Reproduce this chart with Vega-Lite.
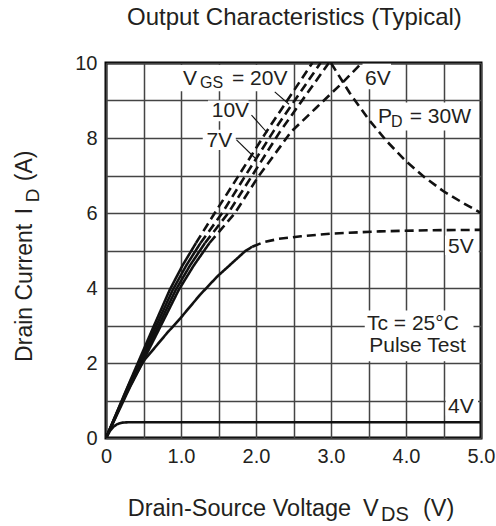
{
  "$schema": "https://vega.github.io/schema/vega-lite/v6.json",
  "width": 375,
  "height": 375,
  "autosize": {"type": "none"},
  "padding": {"left": 106, "top": 63, "right": 15, "bottom": 88},
  "background": "white",
  "config": {
    "view": {"stroke": "#000", "strokeWidth": 3},
    "font": "Liberation Sans",
    "text": {"font": "Liberation Sans", "color": "#231f20"}
  },
  "datasets": {
    "curves": [
      {"c": "20V", "s": "solid", "v": 0, "i": 0},
      {"c": "20V", "s": "solid", "v": 0.3, "i": 1.42},
      {"c": "20V", "s": "solid", "v": 0.63, "i": 2.95},
      {"c": "20V", "s": "solid", "v": 0.85, "i": 3.95},
      {"c": "20V", "s": "solid", "v": 1.02, "i": 4.6},
      {"c": "20V", "s": "solid", "v": 1.2, "i": 5.2},
      {"c": "20V", "s": "dashed", "v": 1.2, "i": 5.2},
      {"c": "20V", "s": "dashed", "v": 1.45, "i": 6.0},
      {"c": "20V", "s": "dashed", "v": 1.76, "i": 6.97},
      {"c": "20V", "s": "dashed", "v": 2.14, "i": 8.17},
      {"c": "20V", "s": "dashed", "v": 2.45, "i": 9.1},
      {"c": "20V", "s": "dashed", "v": 2.75, "i": 10},
      {"c": "10V", "s": "solid", "v": 0, "i": 0},
      {"c": "10V", "s": "solid", "v": 0.3, "i": 1.4},
      {"c": "10V", "s": "solid", "v": 0.66, "i": 2.95},
      {"c": "10V", "s": "solid", "v": 0.89, "i": 3.95},
      {"c": "10V", "s": "solid", "v": 1.07, "i": 4.6},
      {"c": "10V", "s": "solid", "v": 1.26, "i": 5.2},
      {"c": "10V", "s": "dashed", "v": 1.26, "i": 5.2},
      {"c": "10V", "s": "dashed", "v": 1.55, "i": 6.0},
      {"c": "10V", "s": "dashed", "v": 1.85, "i": 6.97},
      {"c": "10V", "s": "dashed", "v": 2.23, "i": 8.17},
      {"c": "10V", "s": "dashed", "v": 2.55, "i": 9.1},
      {"c": "10V", "s": "dashed", "v": 2.86, "i": 10},
      {"c": "7V", "s": "solid", "v": 0, "i": 0},
      {"c": "7V", "s": "solid", "v": 0.31, "i": 1.38},
      {"c": "7V", "s": "solid", "v": 0.69, "i": 2.95},
      {"c": "7V", "s": "solid", "v": 0.93, "i": 3.95},
      {"c": "7V", "s": "solid", "v": 1.12, "i": 4.6},
      {"c": "7V", "s": "solid", "v": 1.32, "i": 5.2},
      {"c": "7V", "s": "dashed", "v": 1.32, "i": 5.2},
      {"c": "7V", "s": "dashed", "v": 1.63, "i": 6.0},
      {"c": "7V", "s": "dashed", "v": 1.94, "i": 6.97},
      {"c": "7V", "s": "dashed", "v": 2.32, "i": 8.17},
      {"c": "7V", "s": "dashed", "v": 2.65, "i": 9.1},
      {"c": "7V", "s": "dashed", "v": 2.97, "i": 10},
      {"c": "6V", "s": "solid", "v": 0, "i": 0},
      {"c": "6V", "s": "solid", "v": 0.32, "i": 1.36},
      {"c": "6V", "s": "solid", "v": 0.72, "i": 2.95},
      {"c": "6V", "s": "solid", "v": 0.97, "i": 3.95},
      {"c": "6V", "s": "solid", "v": 1.17, "i": 4.6},
      {"c": "6V", "s": "solid", "v": 1.38, "i": 5.2},
      {"c": "6V", "s": "dashed", "v": 1.38, "i": 5.2},
      {"c": "6V", "s": "dashed", "v": 1.72, "i": 6.0},
      {"c": "6V", "s": "dashed", "v": 2.03, "i": 6.97},
      {"c": "6V", "s": "dashed", "v": 2.47, "i": 8.17},
      {"c": "6V", "s": "dashed", "v": 2.8, "i": 8.8},
      {"c": "6V", "s": "dashed", "v": 3.14, "i": 9.45},
      {"c": "6V", "s": "dashed", "v": 3.41, "i": 10},
      {"c": "5V", "s": "solid", "v": 0, "i": 0},
      {"c": "5V", "s": "solid", "v": 0.25, "i": 1.12},
      {"c": "5V", "s": "solid", "v": 0.5, "i": 2.05},
      {"c": "5V", "s": "solid", "v": 0.81, "i": 2.79},
      {"c": "5V", "s": "solid", "v": 0.99, "i": 3.19},
      {"c": "5V", "s": "solid", "v": 1.25, "i": 3.81},
      {"c": "5V", "s": "solid", "v": 1.48, "i": 4.3},
      {"c": "5V", "s": "solid", "v": 1.7, "i": 4.7},
      {"c": "5V", "s": "solid", "v": 1.86, "i": 4.99},
      {"c": "5V", "s": "solid", "v": 1.95, "i": 5.1},
      {"c": "5V", "s": "dashed", "v": 1.95, "i": 5.1},
      {"c": "5V", "s": "dashed", "v": 2.1, "i": 5.22},
      {"c": "5V", "s": "dashed", "v": 2.3, "i": 5.31},
      {"c": "5V", "s": "dashed", "v": 2.6, "i": 5.38},
      {"c": "5V", "s": "dashed", "v": 3.0, "i": 5.45},
      {"c": "5V", "s": "dashed", "v": 3.65, "i": 5.51},
      {"c": "5V", "s": "dashed", "v": 4.3, "i": 5.54},
      {"c": "5V", "s": "dashed", "v": 5.0, "i": 5.55},
      {"c": "4V", "s": "solid", "v": 0, "i": 0},
      {"c": "4V", "s": "solid", "v": 0.05, "i": 0.18},
      {"c": "4V", "s": "solid", "v": 0.1, "i": 0.3},
      {"c": "4V", "s": "solid", "v": 0.15, "i": 0.37},
      {"c": "4V", "s": "solid", "v": 0.22, "i": 0.41},
      {"c": "4V", "s": "solid", "v": 0.3, "i": 0.42},
      {"c": "4V", "s": "solid", "v": 5.0, "i": 0.42},
      {"c": "PD", "s": "dashed", "v": 3.0, "i": 10},
      {"c": "PD", "s": "dashed", "v": 3.25, "i": 9.2},
      {"c": "PD", "s": "dashed", "v": 3.5, "i": 8.5},
      {"c": "PD", "s": "dashed", "v": 3.75, "i": 7.9},
      {"c": "PD", "s": "dashed", "v": 4.0, "i": 7.38},
      {"c": "PD", "s": "dashed", "v": 4.25, "i": 6.95},
      {"c": "PD", "s": "dashed", "v": 4.5, "i": 6.58},
      {"c": "PD", "s": "dashed", "v": 4.75, "i": 6.28},
      {"c": "PD", "s": "dashed", "v": 5.0, "i": 6.0}
    ],
    "leaders": [
      {"c": "20V", "v": 2.25, "i": 9.23},
      {"c": "20V", "v": 2.44, "i": 8.9},
      {"c": "10V", "v": 1.94, "i": 8.61},
      {"c": "10V", "v": 2.15, "i": 8.14},
      {"c": "7V", "v": 1.74, "i": 7.95},
      {"c": "7V", "v": 1.99, "i": 7.46}
    ],
    "boxes": [
      {"v": 0.98, "v2": 2.46, "i": 9.25, "i2": 9.95},
      {"v": 1.36, "v2": 1.9, "i": 8.45, "i2": 9.0},
      {"v": 1.29, "v2": 1.73, "i": 7.68, "i2": 8.22},
      {"v": 3.42, "v2": 3.8, "i": 9.3, "i2": 9.98},
      {"v": 3.6, "v2": 4.96, "i": 8.2, "i2": 8.95},
      {"v": 4.52, "v2": 4.97, "i": 4.88, "i2": 5.4},
      {"v": 3.45, "v2": 4.9, "i": 2.05, "i2": 3.4},
      {"v": 4.53, "v2": 4.96, "i": 0.6, "i2": 1.1}
    ],
    "labels": [
      {"t": "V", "v": 1.027, "i": 9.41},
      {"t": "= 20V", "v": 1.68, "i": 9.41},
      {"t": "10V", "v": 1.41, "i": 8.56},
      {"t": "7V", "v": 1.34, "i": 7.76},
      {"t": "6V", "v": 3.453, "i": 9.41},
      {"t": "P", "v": 3.627, "i": 8.4},
      {"t": "= 30W", "v": 4.05, "i": 8.4},
      {"t": "5V", "v": 4.56, "i": 4.94},
      {"t": "Tc = 25°C", "v": 3.48, "i": 2.88},
      {"t": "Pulse Test", "v": 3.51, "i": 2.3},
      {"t": "4V", "v": 4.56, "i": 0.67}
    ],
    "subs": [
      {"t": "GS", "v": 1.253, "i": 9.33},
      {"t": "D", "v": 3.8, "i": 8.3}
    ],
    "xtitle": [
      {"t": "Drain-Source Voltage", "v": 0.29, "i": -2.08},
      {"t": "V", "v": 3.427, "i": -2.08},
      {"t": "(V)", "v": 4.227, "i": -2.08}
    ],
    "xsub": [
      {"t": "DS", "v": 3.667, "i": -2.2}
    ],
    "ytitle": [
      {"t": "Drain Current", "v": -0.987, "i": 2.03},
      {"t": "I", "v": -0.987, "i": 5.97},
      {"t": "(A)", "v": -0.987, "i": 6.85}
    ],
    "ysub": [
      {"t": "D", "v": -0.9, "i": 6.29}
    ],
    "title": [
      {"t": "Output Characteristics (Typical)", "v": 2.513, "i": 11.01}
    ]
  },
  "encoding": {
    "x": {
      "field": "v",
      "type": "quantitative",
      "scale": {"domain": [0, 5], "nice": false, "zero": false},
      "axis": {
        "values": [0, 0.5, 1, 1.5, 2, 2.5, 3, 3.5, 4, 4.5, 5],
        "labelExpr": "datum.value == 0 ? '0' : (datum.value % 1 == 0 ? format(datum.value, '.1f') : '')",
        "title": null,
        "grid": true,
        "ticks": false,
        "domain": false,
        "labelFont": "Liberation Sans",
        "labelFontSize": 20,
        "labelPadding": 8,
        "labelColor": "#231f20",
        "labelFlush": false,
        "labelOverlap": false,
        "gridColor": "#444444",
        "gridWidth": 1.5,
        "gridOpacity": 1
      }
    },
    "y": {
      "field": "i",
      "type": "quantitative",
      "scale": {"domain": [0, 10], "nice": false, "zero": false},
      "axis": {
        "values": [0, 1, 2, 3, 4, 5, 6, 7, 8, 9, 10],
        "labelExpr": "datum.value % 2 == 0 ? datum.label : ''",
        "title": null,
        "grid": true,
        "ticks": false,
        "domain": false,
        "labelFont": "Liberation Sans",
        "labelFontSize": 20,
        "labelPadding": 9,
        "labelColor": "#231f20",
        "labelFlush": false,
        "labelOverlap": false,
        "gridColor": "#444444",
        "gridWidth": 1.5,
        "gridOpacity": 1
      }
    }
  },
  "layer": [
    {
      "data": {"name": "boxes"},
      "mark": {"type": "rect", "color": "white", "opacity": 1},
      "encoding": {"x2": {"field": "v2"}, "y2": {"field": "i2"}}
    },
    {
      "data": {"name": "curves"},
      "mark": {"type": "line", "color": "#111", "strokeWidth": 2.6, "clip": true},
      "encoding": {
        "detail": [{"field": "c"}, {"field": "s"}],
        "strokeDash": {
          "field": "s",
          "type": "nominal",
          "scale": {"domain": ["solid", "dashed"], "range": [[1, 0], [9, 5]]},
          "legend": null
        }
      }
    },
    {
      "data": {"name": "leaders"},
      "mark": {"type": "line", "color": "#111", "strokeWidth": 1.1},
      "encoding": {"detail": {"field": "c"}}
    },
    {
      "data": {"name": "labels"},
      "mark": {"type": "text", "fontSize": 21, "align": "left", "baseline": "alphabetic"},
      "encoding": {"text": {"field": "t"}}
    },
    {
      "data": {"name": "subs"},
      "mark": {"type": "text", "fontSize": 16, "align": "left", "baseline": "alphabetic"},
      "encoding": {"text": {"field": "t"}}
    },
    {
      "data": {"name": "xtitle"},
      "mark": {"type": "text", "fontSize": 23.5, "align": "left", "baseline": "alphabetic"},
      "encoding": {"text": {"field": "t"}}
    },
    {
      "data": {"name": "xsub"},
      "mark": {"type": "text", "fontSize": 20, "align": "left", "baseline": "alphabetic"},
      "encoding": {"text": {"field": "t"}}
    },
    {
      "data": {"name": "ytitle"},
      "mark": {"type": "text", "fontSize": 23, "align": "left", "baseline": "alphabetic", "angle": 270},
      "encoding": {"text": {"field": "t"}}
    },
    {
      "data": {"name": "ysub"},
      "mark": {"type": "text", "fontSize": 19, "align": "left", "baseline": "alphabetic", "angle": 270},
      "encoding": {"text": {"field": "t"}}
    },
    {
      "data": {"name": "title"},
      "mark": {"type": "text", "fontSize": 24, "align": "center", "baseline": "alphabetic"},
      "encoding": {"text": {"field": "t"}}
    }
  ]
}
